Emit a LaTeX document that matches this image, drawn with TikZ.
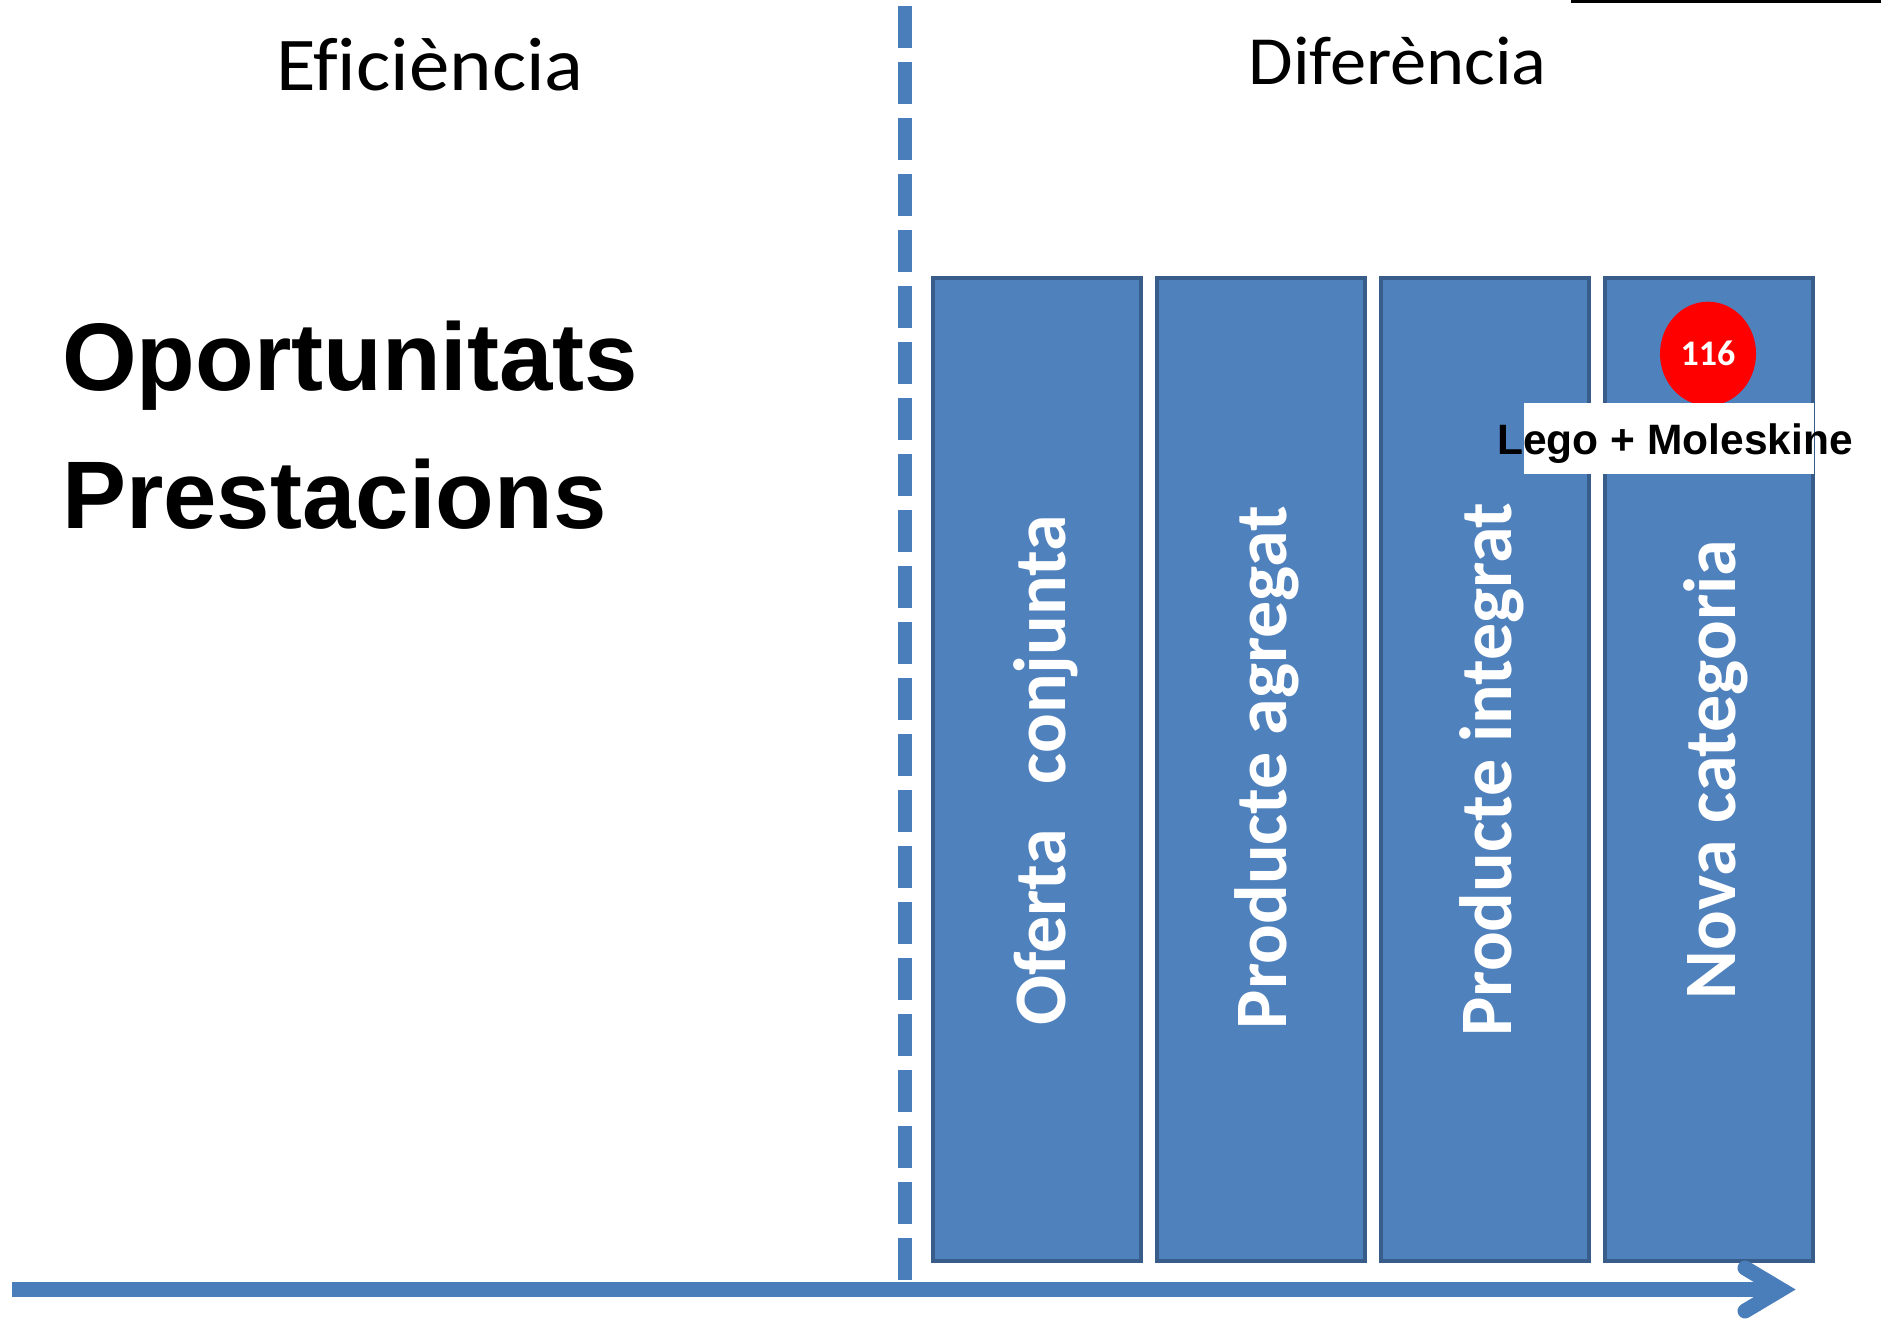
\documentclass[tikz,border=0pt]{standalone}
\usepackage{fontspec}
\setmainfont{Carlito}
\newfontfamily\carlito{Carlito}[Ligatures=NoCommon]
\newfontfamily\arialfont{Liberation Sans}
\usetikzlibrary{shapes.geometric,calc}
\definecolor{barblue}{HTML}{4F81BD}
\definecolor{bardark}{HTML}{385D8A}
\definecolor{axisblue}{HTML}{4A7EBB}
\tikzset{
  bar/.style={fill=barblue, draw=bardark, line width=4pt, minimum width=208pt, minimum height=983pt, inner sep=0pt},
  barlabel/.style={rotate=90, anchor=mid, text=white, inner sep=0pt, font=\carlito\bfseries\fontsize{74}{80}\selectfont},
  heading/.style={anchor=base, inner sep=0pt},
  bigtext/.style={anchor=base west, inner sep=0pt, font=\arialfont\bfseries\fontsize{96}{110}\selectfont},
  axisline/.style={draw=axisblue, line width=15pt},
  divider/.style={draw=axisblue, line width=14pt, dash pattern=on 42pt off 14pt},
}
\begin{document}
\begin{tikzpicture}[x=1pt,y=-1pt]
\useasboundingbox (0,0) rectangle (1881,1319);
% top-right black rule
\fill[black] (1571,0) rectangle (1881,3.3);
% headings
\node[heading, font=\carlito\fontsize{76}{80}\selectfont] (eff) at (430,91) {\scalebox{1.065}[1]{Ef\kern0pt iciència}};
\node[heading, font=\carlito\fontsize{69}{75}\selectfont] (dif) at (1397.5,85) {\scalebox{1.05}[1]{Diferència}};
% big texts
\node[bigtext] (op) at (62,390) {Oportunitats};
\node[bigtext] (pr) at (62,528) {Prestacions};
% dashed divider
\coordinate (dtop) at (904.7,6);
\coordinate (dbot) at (904.7,1280);
\draw[divider] (dtop) -- (dbot);
% bars
\node[bar] (b1) at (1037,769.5) {};
\node[bar] (b2) at (1260.5,769.5) {};
\node[bar] (b3) at (1484.5,769.5) {};
\node[bar] (b4) at (1708.5,769.5) {};
\node[barlabel] (l1) at ($(b1.center)+(26,1)$) {Oferta\hspace{0.6em}conjunta};
\node[barlabel] (l2) at ($(b2.center)+(24,-2)$) {Producte agregat};
\node[barlabel] (l3) at ($(b3.center)+(25,0)$) {Producte integrat};
\node[barlabel] (l4) at ($(b4.center)+(25,0)$) {Nova categoria};
% badge
\node[ellipse, fill=red, minimum width=96pt, minimum height=104pt, inner sep=0pt,
      text=white, font=\carlito\bfseries\fontsize{36}{40}\selectfont] (badge) at (1708,353.7) {116};
% white label
\fill[white] (1524,403) rectangle (1814,474);
\node[anchor=base, inner sep=0pt, font=\arialfont\bfseries\fontsize{42.5}{48}\selectfont] (lego) at (1675,454) {Lego + Moleskine};
% axis arrow
\coordinate (a0) at (12,1289.5);
\coordinate (atip) at (1781,1289.5);
\coordinate (ah1) at (1745,1268);
\coordinate (ah2) at (1745,1311);
\draw[axisline] (a0) -- (atip);
\draw[axisline, line cap=round, line join=miter] (ah1) -- (atip) -- (ah2);
\end{tikzpicture}
\end{document}
